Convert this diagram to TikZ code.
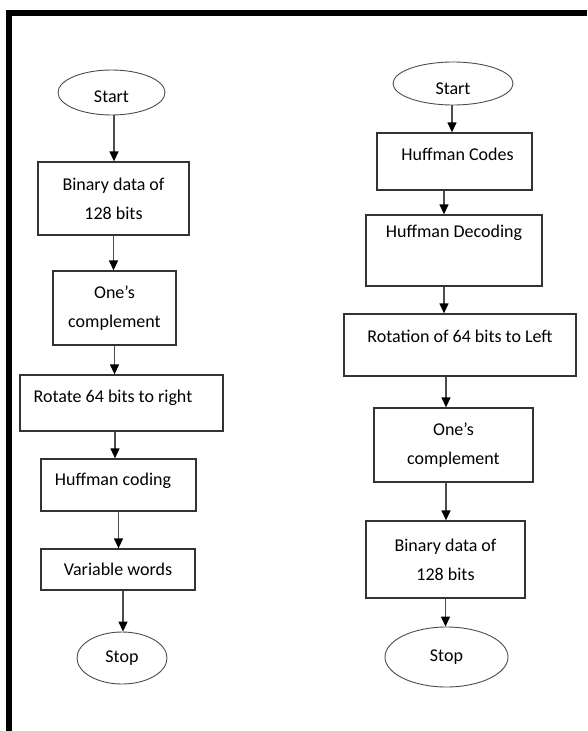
\documentclass[tikz,border=0pt]{standalone}
\usepackage{fontspec}
\setmainfont{Carlito}
\usetikzlibrary{shapes.geometric,arrows.meta,calc}
\begin{document}
\begin{tikzpicture}[x=1pt,y=-1pt,
  every node/.style={font=\fontsize{18}{29}\selectfont, text=black},
  box/.style={draw=black!80, line width=1.3pt, rectangle, inner sep=0pt, align=center},
  term/.style={draw=black!70, line width=0.9pt, ellipse, inner sep=0pt},
  arr/.style={draw=black!70, line width=1.3pt, arrows={-Triangle[length=10pt,width=9pt,fill=black,color=black]}}]
\useasboundingbox (0,0) rectangle (587,731);
% frame
\fill[black] (6,10) rectangle (587,16);
\fill[black] (6,10) rectangle (12,731);
% left column
\node[term, minimum width=107pt, minimum height=45pt, text height=20pt, text depth=0pt] (ls) at (111.5,92.5) {Start};
\node[box, minimum width=151pt, minimum height=73pt] (l1) at (113.5,198.5) {Binary data of\\128 bits};
\node[box, minimum width=123pt, minimum height=74pt] (l2) at (114.5,308) {One’s\\complement};
\node[box, minimum width=203pt, minimum height=56pt, text height=13pt, text depth=15pt] (l3) at (121.5,403) {\hspace*{-17pt}Rotate 64 bits to right};
\node[box, minimum width=155pt, minimum height=52pt, text height=13pt, text depth=13pt] (l4) at (118.5,485) {\hspace*{-11pt}Huffman coding};
\node[box, minimum width=154pt, minimum height=41pt] (l5) at (118,569.5) {Variable words};
\node[term, minimum width=90pt, minimum height=52pt] (le) at (122,658) {Stop};
\draw[arr] ([xshift=2.5pt]ls.south) -- ([xshift=2.5pt]ls.south |- l1.north);
\draw[arr] (l1.south) -- (l1.south |- l2.north);
\draw[arr] (l2.south) -- (l2.south |- l3.north);
\draw[arr] ([xshift=-3.5pt]l4.north |- l3.south) -- ([xshift=-3.5pt]l4.north);
\draw[arr] (l4.south) -- (l4.south |- l5.north);
\draw[arr] ([xshift=5pt]l5.south) -- ([xshift=5pt]l5.south |- le.north);
% right column
\node[term, minimum width=120pt, minimum height=43pt, text height=22pt, text depth=0pt] (rs) at (453,83.5) {Start};
\node[box, minimum width=155pt, minimum height=57pt, text height=13pt, text depth=16pt] (r1) at (454.5,161.5) {\hspace*{6pt}Huffman Codes};
\node[box, minimum width=176pt, minimum height=71pt, text height=13pt, text depth=40pt] (r2) at (454,250.5) {Huffman Decoding};
\node[box, minimum width=232pt, minimum height=62pt, text height=13pt, text depth=19pt] (r3) at (460,345) {Rotation of 64 bits to Left};
\node[box, minimum width=159pt, minimum height=74pt] (r4) at (453.5,445) {One’s\\complement};
\node[box, minimum width=159pt, minimum height=77pt] (r5) at (445.5,559.5) {Binary data of\\128 bits};
\node[term, minimum width=123pt, minimum height=60pt] (re) at (446.5,657) {Stop};
\draw[arr] ([xshift=-1pt]rs.south) -- ([xshift=-1pt]rs.south |- r1.north);
\draw[arr] ([xshift=-10.5pt]r1.south) -- ([xshift=-10.5pt]r1.south |- r2.north);
\draw[arr] ([xshift=-10pt]r2.south) -- ([xshift=-10pt]r2.south |- r3.north);
\draw[arr] ([xshift=-7.5pt]r4.north |- r3.south) -- ([xshift=-7.5pt]r4.north);
\draw[arr] ([xshift=0.5pt]r5.north |- r4.south) -- ([xshift=0.5pt]r5.north);
\draw[arr] (r5.south) -- (r5.south |- re.north);
\end{tikzpicture}
\end{document}
